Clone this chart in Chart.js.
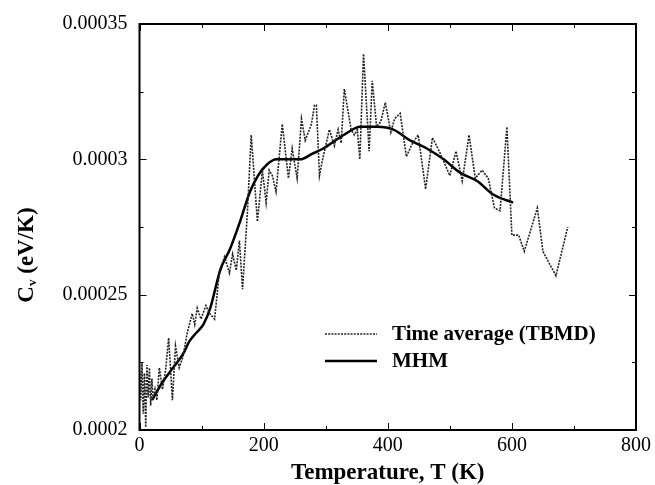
<!DOCTYPE html>
<html>
<head>
<meta charset="utf-8">
<script src="https://cdn.jsdelivr.net/npm/chart.js@4.4.1/dist/chart.umd.min.js"></script>
<style>
  html, body { margin: 0; padding: 0; background: #fff; }
  #wrap { width: 655px; height: 485px; }
</style>
</head>
<body>
<div id="wrap"><canvas id="myChart" width="655" height="485"></canvas></div>
<script>
// time average (TBMD)
const tbmdT = [0, 2, 4, 6, 8, 10, 12, 14, 16, 18, 20, 22, 25, 28, 32, 37, 42, 47, 53, 58, 64, 70, 77, 85, 89, 93, 99, 107, 113, 121,
  129, 137, 145, 150, 156, 161, 166, 174, 180, 190, 198, 204, 209, 214, 220, 230, 240, 246, 254, 261, 267, 277, 282, 285, 290,
  295, 306, 314, 320, 325, 330, 341, 346, 351, 355, 361, 370, 375, 382, 389, 396, 405, 411, 420, 430, 440, 449, 461, 472, 483,
  500, 510, 520, 531, 541, 552, 562, 572, 581, 592, 600, 611, 620, 641, 650, 671, 690];
const tbmdCv = [0.000222, 0.000211, 0.000225, 0.000206, 0.000221, 0.000201, 0.000224, 0.000212, 0.000223, 0.000209, 0.000219,
  0.000211, 0.000215, 0.000211, 0.000223, 0.000215, 0.000222, 0.000234, 0.000211, 0.000231, 0.000223, 0.000227, 0.000236,
  0.000243, 0.000239, 0.000245, 0.000241, 0.000246, 0.000243, 0.000241, 0.000259, 0.000264, 0.000258, 0.000265, 0.000259,
  0.000270, 0.000252, 0.000281, 0.000309, 0.000277, 0.000296, 0.000284, 0.000296, 0.000294, 0.000288, 0.000313, 0.000293,
  0.000304, 0.000293, 0.000315, 0.000307, 0.000313, 0.000320, 0.000320, 0.000294, 0.000300, 0.000311, 0.000305, 0.000311,
  0.000306, 0.000326, 0.000311, 0.000309, 0.000311, 0.000300, 0.000339, 0.000303, 0.000329, 0.000312, 0.000314, 0.000321,
  0.000310, 0.000315, 0.000317, 0.000301, 0.000306, 0.000309, 0.000289, 0.000308, 0.000303, 0.000294, 0.000303, 0.000292,
  0.000309, 0.000293, 0.000296, 0.000293, 0.000282, 0.000281, 0.000312, 0.000272, 0.000272, 0.000266, 0.000282, 0.000266,
  0.000257, 0.000275];

// MHM curve
const mhmT = [20, 38, 54, 70, 81, 92, 103, 114, 130, 146, 162, 178, 191, 205, 221, 243, 259, 278, 296, 329, 356, 383, 409,
  436, 463, 490, 517, 544, 570, 602];
const mhmCv = [0.000211, 0.000218, 0.000223, 0.000228, 0.000233, 0.000236, 0.000239, 0.000245, 0.000259, 0.000267, 0.000277,
  0.000288, 0.000294, 0.000298, 0.000300, 0.000300, 0.000300, 0.000302, 0.000304, 0.000309, 0.000312, 0.000312, 0.000311,
  0.000307, 0.000304, 0.000300, 0.000295, 0.000292, 0.000287, 0.000284];

const seriesNames = ["Time average (TBMD)", "MHM"];
const xTicks = [0, 200, 400, 600, 800];
const yTicks = [0.0002, 0.00025, 0.0003, 0.00035];

const serif = "'Liberation Serif', 'Times New Roman', serif";

function toPoints(xs, ys) {
    let stock = [];
    let i = -1;
    while (++i < xs.length)
        stock.push({ x: xs[i], y: ys[i] });
    return stock;
}

// frame + inward ticks on all four sides, plus y title with subscript and the legend
const decorations = {
    id: 'decorations',
    afterDraw(chart) {
        const ctx = chart.ctx;
        const a = chart.chartArea;
        const xs = chart.scales.x;
        const ys = chart.scales.y;
        ctx.save();
        ctx.strokeStyle = '#000';
        ctx.lineWidth = 1;
        // minor + major ticks
        for (let v = 0; v <= 800; v += 100) {
            const px = Math.round(xs.getPixelForValue(v)) + 0.5;
            const len = v % 200 === 0 ? 7 : 4;
            ctx.beginPath();
            ctx.moveTo(px, a.bottom); ctx.lineTo(px, a.bottom - len);
            ctx.moveTo(px, a.top); ctx.lineTo(px, a.top + len);
            ctx.stroke();
        }
        for (let k = 0; k <= 6; k++) {
            const v = 0.0002 + k * 0.000025;
            const py = Math.round(ys.getPixelForValue(v)) + 0.5;
            const len = k % 2 === 0 ? 7 : 4;
            ctx.beginPath();
            ctx.moveTo(a.left, py); ctx.lineTo(a.left + len, py);
            ctx.moveTo(a.right, py); ctx.lineTo(a.right - len, py);
            ctx.stroke();
        }
        ctx.lineWidth = 2;
        ctx.strokeRect(a.left, a.top, a.right - a.left, a.bottom - a.top);

        // y axis title: C_v (eV/K)
        ctx.translate(27, 255);
        ctx.rotate(-Math.PI / 2);
        ctx.fillStyle = '#000';
        ctx.textBaseline = 'middle';
        ctx.font = 'bold 23px ' + serif;
        const wC = ctx.measureText('C').width;
        const rest = ' (eV/K)';
        const wRest = ctx.measureText(rest).width;
        ctx.font = 'bold 13px ' + serif;
        const wv = ctx.measureText('v').width;
        let x0 = -(wC + wv + wRest) / 2;
        ctx.font = 'bold 23px ' + serif;
        ctx.fillText('C', x0, 0);
        ctx.font = 'bold 13px ' + serif;
        ctx.fillText('v', x0 + wC, 6);
        ctx.font = 'bold 23px ' + serif;
        ctx.fillText(rest, x0 + wC + wv, 0);
        ctx.restore();

        // legend
        ctx.save();
        const rowsY = [334, 361];
        chart.data.datasets.forEach((ds, i) => {
            ctx.strokeStyle = ds.borderColor;
            ctx.lineWidth = ds.borderWidth;
            ctx.setLineDash(ds.borderDash || []);
            ctx.beginPath();
            ctx.moveTo(325, rowsY[i]);
            ctx.lineTo(377, rowsY[i]);
            ctx.stroke();
            ctx.setLineDash([]);
            ctx.fillStyle = '#000';
            ctx.font = 'bold 21px ' + serif;
            ctx.textBaseline = 'middle';
            ctx.textAlign = 'left';
            ctx.fillText(ds.label, 392, rowsY[i] + 1);
        });
        ctx.restore();
    }
};

const ctx = document.getElementById('myChart');

new Chart(ctx, {
    type: 'scatter',
    data: {
        datasets: [{
            label: seriesNames[0],
            data: toPoints(tbmdT, tbmdCv),
            showLine: true,
            borderColor: '#222',
            borderWidth: 1.6,
            borderDash: [2, 1.2],
            pointRadius: 0,
            tension: 0
        },
        {
            label: seriesNames[1],
            data: toPoints(mhmT, mhmCv),
            showLine: true,
            borderColor: '#000',
            borderWidth: 2.5,
            pointRadius: 0,
            cubicInterpolationMode: 'monotone'
        }]
    },
    options: {
        responsive: false,
        animation: false,
        layout: { padding: { left: 0, top: 21, right: 19, bottom: 0 } },
        plugins: {
            legend: { display: false },
            tooltip: { enabled: false }
        },
        scales: {
            x: {
                type: 'linear',
                min: 0,
                max: 800,
                afterBuildTicks: s => { s.ticks = xTicks.map(v => ({ value: v })); },
                afterFit: s => { s.height = 55; },
                grid: { display: false, drawTicks: false },
                border: { display: false },
                ticks: {
                    color: '#000',
                    font: { family: serif, size: 20 },
                    padding: 4,
                    maxRotation: 0
                },
                title: {
                    display: true,
                    text: 'Temperature, T (K)',
                    color: '#000',
                    font: { family: serif, size: 23, weight: 'bold', lineHeight: 1 },
                    padding: { top: 0, bottom: 0 }
                }
            },
            y: {
                type: 'linear',
                min: 0.0002,
                max: 0.00035,
                afterBuildTicks: s => { s.ticks = yTicks.map(v => ({ value: v })); },
                afterFit: s => { s.width = 139.5; },
                grid: { display: false, drawTicks: false },
                border: { display: false },
                ticks: {
                    color: '#000',
                    font: { family: serif, size: 20 },
                    padding: 12,
                    callback: v => String(Number(v.toPrecision(6)))
                }
            }
        }
    },
    plugins: [decorations]
});
</script>
</body>
</html>
